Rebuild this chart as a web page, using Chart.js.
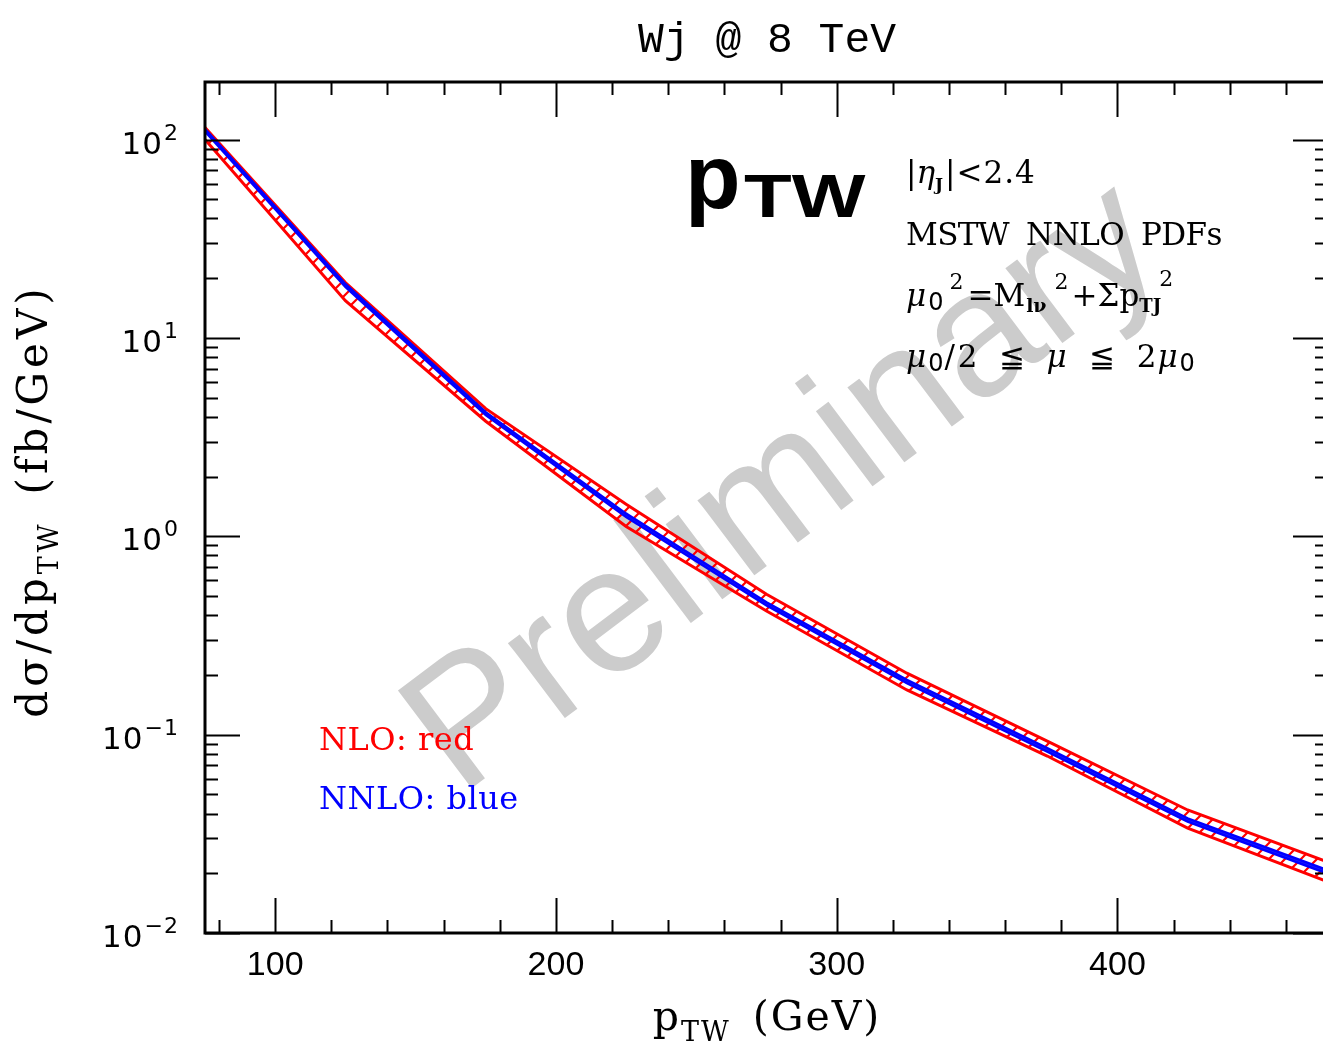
<!DOCTYPE html>
<html>
<head>
<meta charset="utf-8">
<title>Wj @ 8 TeV</title>
<script src="https://cdn.jsdelivr.net/npm/chart.js@4.4.1/dist/chart.umd.min.js"></script>
<style>
html, body { margin: 0; padding: 0; background: #fff; overflow: hidden; }
canvas { display: block; }
</style>
</head>
<body>
<canvas id="ptwChart" width="1340" height="1041"></canvas>
<script>
// W+jet transverse momentum spectrum, NLO vs NNLO scale bands
const ptNodes   = [75, 125, 175, 225, 275, 325, 375, 425, 475];
const nloUpper  = [115, 19.0, 4.40, 1.45, 0.510, 0.204, 0.0927, 0.0417, 0.0228];
const nloLower  = [100, 15.4, 3.80, 1.12, 0.420, 0.168, 0.0780, 0.0338, 0.0181];
const nnloUpper = [113, 18.7, 4.22, 1.30, 0.465, 0.189, 0.0855, 0.0378, 0.0207];
const nnloLower = [110, 18.1, 4.08, 1.25, 0.448, 0.182, 0.0822, 0.0364, 0.0199];

const xMajorTicks = [100, 200, 300, 400];
const yDecades = [2, 1, 0, -1, -2];

const X_MIN = 75, X_MAX = 475;
const Y_MIN = 0.01, Y_MAX = 195;

const SERIF = '"DejaVu Serif", "Liberation Serif", serif';
const SANS = '"Liberation Sans", Arial, sans-serif';
const DJSANS = '"DejaVu Sans", sans-serif';

function toPoints(ys) {
    return ptNodes.map((x, i) => ({ x: x, y: ys[i] }));
}

// diagonal red hatching for the NLO band
function makeHatch() {
    const size = 16;
    const c = document.createElement('canvas');
    c.width = size;
    c.height = size;
    const g = c.getContext('2d');
    g.strokeStyle = '#ff0000';
    g.lineWidth = 2.2;
    g.beginPath();
    g.moveTo(-2, size + 2);
    g.lineTo(size + 2, -2);
    g.moveTo(-2, 2);
    g.lineTo(2, -2);
    g.moveTo(size - 2, size + 2);
    g.lineTo(size + 2, size - 2);
    g.stroke();
    return g.createPattern(c, 'repeat');
}

// text pieces with their own size / offset, drawn char by char so tracking can be added
function partFont(p, o) {
    return (p.style ? p.style + ' ' : '') + (p.size || o.size) + 'px ' + (p.family || o.family);
}

function richWidth(ctx, parts, o) {
    let w = 0;
    parts.forEach(p => {
        ctx.font = partFont(p, o);
        const tr = p.track !== undefined ? p.track : (o.track || 0);
        for (const ch of p.t) w += ctx.measureText(ch).width + tr;
        w += p.gap || 0;
    });
    return w;
}

function drawRich(ctx, x, y, parts, o) {
    const w = richWidth(ctx, parts, o);
    let cx = x;
    if (o.align === 'center') cx = x - w / 2;
    if (o.align === 'right') cx = x - w;
    ctx.textAlign = 'left';
    ctx.textBaseline = 'alphabetic';
    parts.forEach(p => {
        ctx.font = partFont(p, o);
        const tr = p.track !== undefined ? p.track : (o.track || 0);
        for (const ch of p.t) {
            ctx.fillText(ch, cx, y + (p.dy || 0));
            cx += ctx.measureText(ch).width + tr;
        }
        cx += p.gap || 0;
    });
}

const watermark = {
    id: 'watermark',
    beforeDatasetsDraw(chart) {
        const ctx = chart.ctx;
        ctx.save();
        ctx.translate(786, 490);
        ctx.rotate(-37 * Math.PI / 180);
        ctx.fillStyle = '#cccccc';
        ctx.font = '178px ' + SANS;
        ctx.textAlign = 'center';
        ctx.textBaseline = 'middle';
        ctx.fillText('Preliminary', 0, 0);
        ctx.restore();
    }
};

const frameAndLabels = {
    id: 'frameAndLabels',
    afterDraw(chart) {
        const ctx = chart.ctx;
        const area = chart.chartArea;
        const xs = chart.scales.x;
        const ys = chart.scales.y;
        ctx.save();
        ctx.strokeStyle = '#000';
        ctx.fillStyle = '#000';

        // frame
        ctx.lineWidth = 3;
        ctx.strokeRect(area.left, area.top, area.right - area.left, area.bottom - area.top);

        // x ticks, bottom and top
        ctx.lineWidth = 2;
        ctx.beginPath();
        for (let v = 80; v <= X_MAX; v += 20) {
            const px = Math.round(xs.getPixelForValue(v)) + 0.5;
            const len = (v % 100 === 0) ? 35 : 13;
            ctx.moveTo(px, area.bottom);
            ctx.lineTo(px, area.bottom - len);
            ctx.moveTo(px, area.top);
            ctx.lineTo(px, area.top + len);
        }
        // y ticks, left and right
        for (let e = -2; e <= 2; e++) {
            for (let m = 1; m <= 9; m++) {
                const val = m * Math.pow(10, e);
                if (val < Y_MIN || val > Y_MAX) continue;
                const py = Math.round(ys.getPixelForValue(val)) + 0.5;
                const len = (m === 1) ? 35 : 13;
                ctx.moveTo(area.left, py);
                ctx.lineTo(area.left + len, py);
                ctx.moveTo(area.right, py);
                ctx.lineTo(area.right - len, py);
            }
        }
        ctx.stroke();

        // x tick labels
        ctx.font = '34px "Liberation Sans Narrow", "Liberation Sans", sans-serif';
        ctx.textAlign = 'center';
        ctx.textBaseline = 'alphabetic';
        xMajorTicks.forEach(v => {
            ctx.fillText(String(v), xs.getPixelForValue(v), 975);
        });

        // y tick labels 10^n
        yDecades.forEach(e => {
            const py = ys.getPixelForValue(Math.pow(10, e));
            const sup = e < 0 ? '\u2212' + Math.abs(e) : String(e);
            drawRich(ctx, 179, py + 14, [{ t: '10', gap: 1 }, { t: sup, size: 22, dy: -14 }],
                { size: 31, family: DJSANS, align: 'right', track: 1 });
        });

        // title
        ctx.font = '43px "Liberation Mono", "DejaVu Sans Mono", monospace';
        ctx.textAlign = 'center';
        ctx.fillText('Wj @ 8 TeV', 767, 52);

        // axis titles
        drawRich(ctx, 767, 1030, [
            { t: 'p' }, { t: 'TW', size: 27, dy: 11, gap: 22 }, { t: '(GeV)' }
        ], { size: 41, family: SERIF, align: 'center', track: 2 });
        ctx.save();
        ctx.translate(47, 501);
        ctx.rotate(-Math.PI / 2);
        drawRich(ctx, 0, 0, [
            { t: 'd\u03c3/dp' }, { t: 'TW', size: 27, dy: 11, gap: 26 }, { t: '(fb/GeV)' }
        ], { size: 42, family: SERIF, align: 'center', track: 4 });
        ctx.restore();

        // big observable label
        ctx.textAlign = 'left';
        ctx.font = 'bold 91px ' + SANS;
        ctx.fillText('p', 685, 208);
        ctx.save();
        ctx.translate(744, 217);
        ctx.scale(1.28, 1);
        ctx.font = 'bold 61px ' + SANS;
        ctx.fillText('TW', 0, 0);
        ctx.restore();

        // cuts and settings
        const info = { size: 31, family: SERIF, align: 'left' };
        drawRich(ctx, 906, 183, [
            { t: '|' }, { t: '\u03b7', style: 'italic' }, { t: 'J', size: 17, dy: 7, style: 'bold', gap: 2 },
            { t: '|<2.4', track: 1 }
        ], info);
        drawRich(ctx, 906, 245, [{ t: 'MSTW', gap: 17 }, { t: 'NNLO', gap: 17 }, { t: 'PDFs' }],
            { size: 31, family: SERIF, align: 'left', track: -0.6 });
        drawRich(ctx, 906, 306, [
            { t: '\u03bc', style: 'italic', gap: 2 }, { t: '0', family: DJSANS, size: 24, dy: 4, gap: 6 },
            { t: '2', size: 22, dy: -17, gap: 4 },
            { t: '=M', gap: 1 }, { t: 'l\u03bd', size: 19, dy: 6, style: 'bold', gap: 8 },
            { t: '2', size: 22, dy: -17, gap: 3 },
            { t: '+\u03a3p', gap: 0 }, { t: 'TJ', size: 18, dy: 6, style: 'bold', gap: -2 },
            { t: '2', size: 22, dy: -20 }
        ], info);
        drawRich(ctx, 906, 367, [
            { t: '\u03bc', style: 'italic', gap: 2 }, { t: '0', family: DJSANS, size: 24, dy: 4, gap: 1 },
            { t: '/2', track: 3, gap: 18 }, { t: '\u2266', gap: 22 },
            { t: '\u03bc', style: 'italic', gap: 22 }, { t: '\u2266', gap: 22 },
            { t: '2', gap: 1 }, { t: '\u03bc', style: 'italic', gap: 2 },
            { t: '0', family: DJSANS, size: 24, dy: 4 }
        ], info);

        // legend
        ctx.textAlign = 'left';
        ctx.fillStyle = '#ff0000';
        drawRich(ctx, 319, 750, [{ t: 'NLO: red' }], { size: 32, family: SERIF, align: 'left', track: 0.5 });
        ctx.fillStyle = '#0000ff';
        drawRich(ctx, 319, 809, [{ t: 'NNLO: blue' }], { size: 32, family: SERIF, align: 'left', track: 0.5 });
        ctx.restore();
    }
};

const hatch = makeHatch();

// Chart.js paints the first dataset last, so the NNLO band goes first to sit on top
new Chart(document.getElementById('ptwChart'), {
    type: 'line',
    data: {
        datasets: [
            {
                label: 'NNLO upper',
                data: toPoints(nnloUpper),
                borderColor: '#0000ff',
                borderWidth: 2.5,
                pointRadius: 0,
                fill: false
            },
            {
                label: 'NNLO lower',
                data: toPoints(nnloLower),
                borderColor: '#0000ff',
                borderWidth: 2.5,
                pointRadius: 0,
                backgroundColor: '#1a1aff',
                fill: '-1'
            },
            {
                label: 'NLO upper',
                data: toPoints(nloUpper),
                borderColor: '#ff0000',
                borderWidth: 3,
                pointRadius: 0,
                fill: false
            },
            {
                label: 'NLO lower',
                data: toPoints(nloLower),
                borderColor: '#ff0000',
                borderWidth: 3,
                pointRadius: 0,
                backgroundColor: hatch,
                fill: '-1'
            }
        ]
    },
    options: {
        responsive: false,
        animation: false,
        devicePixelRatio: 1,
        layout: {
            padding: { left: 205, right: 12, top: 82, bottom: 108 }
        },
        plugins: {
            legend: { display: false },
            tooltip: { enabled: false }
        },
        scales: {
            x: {
                type: 'linear',
                min: X_MIN,
                max: X_MAX,
                display: false
            },
            y: {
                type: 'logarithmic',
                min: Y_MIN,
                max: Y_MAX,
                display: false
            }
        }
    },
    plugins: [watermark, frameAndLabels]
});
</script>
</body>
</html>
